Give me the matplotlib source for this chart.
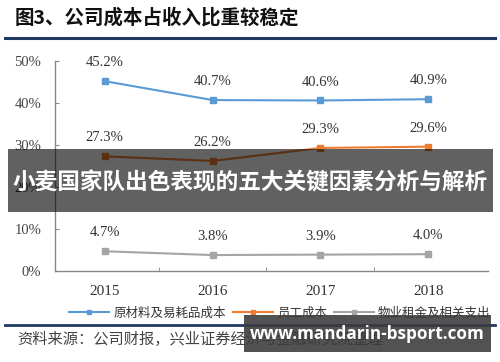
import matplotlib
matplotlib.use("Agg")
import matplotlib.pyplot as plt
from matplotlib.patches import Rectangle
from matplotlib.lines import Line2D

# ---------------- Data ----------------
years = ["2015", "2016", "2017", "2018"]
material = [45.2, 40.7, 40.6, 40.9]
staff = [27.3, 26.2, 29.3, 29.6]
rent = [4.7, 3.8, 3.9, 4.0]
series_names = ["原材料及易耗品成本", "员工成本", "物业租金及相关支出"]
y_ticks = [0, 10, 20, 30, 40, 50]

title_text = "图3、公司成本占收入比重较稳定"
source_text = "资料来源：公司财报，兴业证券经济与金融研究院整理"
banner_text = "小麦国家队出色表现的五大关键因素分析与解析"
watermark_text = "www.mandarin-bsport.com"

colors = ["#5B9BD5", "#ED7D31", "#A5A5A5"]
CJK = ["Noto Sans CJK SC", "DejaVu Sans"]
SERIF = "Liberation Serif"

W, H = 500, 362
fig = plt.figure(figsize=(W / 100, H / 100), dpi=100)


def fx(px):
    return px / W


def fy(py):
    return 1 - py / H


# ---------------- Header ----------------
fig.text(fx(15), fy(18), title_text, family=CJK, fontsize=14, fontweight="bold",
         color="#111111", va="center", ha="left")
fig.add_artist(Line2D([fx(5), fx(495)], [fy(38), fy(38)], color="#1F3864", lw=2.2))

# ---------------- Chart ----------------
ax = fig.add_axes([fx(55), fy(271), fx(493) - fx(55), fy(61) - fy(271)])
x = list(range(len(years)))
for vals, c in zip([material, staff, rent], colors):
    ax.plot(x, vals, color=c, lw=1.5, marker="s", markersize=4, zorder=3)
    for xi, v in zip(x, vals):
        ax.text(xi, v + 4.4, f"{v:.1f}%", ha="center", va="center",
                family=SERIF, fontsize=10.5, color="#333333")

ax.set_xlim(-0.46, 3.6)
ax.set_ylim(0, 50)
ax.set_yticks(y_ticks)
ax.set_yticklabels([f"{t}%" for t in y_ticks], family=SERIF, fontsize=10.5, color="#444444")
ax.set_xticks(x)
ax.set_xticklabels(years, family=SERIF, fontsize=11, color="#333333")
ax.set_xticks([0.5, 1.5, 2.5], minor=True)
ax.tick_params(axis="x", which="major", length=0, pad=10)
ax.tick_params(axis="x", which="minor", length=3, direction="in", color="#888888")
ax.tick_params(axis="y", length=3, direction="in", color="#888888", pad=10)
for s in ["top", "right"]:
    ax.spines[s].set_visible(False)
for s in ["left", "bottom"]:
    ax.spines[s].set_color("#888888")
    ax.spines[s].set_linewidth(1.0)
ax.spines["bottom"].set_bounds(-0.46, 3.55)

# ---------------- Legend ----------------
handles = [Line2D([], [], color=c, lw=1.5, marker="s", markersize=3.5) for c in colors]
fig.legend(handles, series_names, loc="center", bbox_to_anchor=(fx(280), fy(313)),
           ncol=3, frameon=False, prop={"family": CJK, "size": 9},
           handlelength=3.2, handletextpad=0.3, columnspacing=0.6, labelcolor="#333333")

# ---------------- Footer ----------------
fig.add_artist(Line2D([fx(5), fx(495)], [fy(325), fy(325)], color="#1F3864", lw=2.0))
fig.text(fx(17), fy(339), source_text, family=CJK, fontsize=11, color="#444444",
         va="center", ha="left")

# ---------------- Overlays ----------------
fig.add_artist(Rectangle((fx(8), fy(212)), fx(493) - fx(8), fy(149) - fy(212),
                         transform=fig.transFigure, color="#000000", alpha=0.62,
                         lw=0, zorder=10))
fig.text(fx(250), fy(183), banner_text, family=CJK, fontsize=16.3, fontweight="bold",
         color="white", ha="center", va="center", zorder=11)

fig.add_artist(Rectangle((fx(244), fy(352)), fx(491) - fx(244), fy(315) - fy(352),
                         transform=fig.transFigure, color="#3a3a3a", alpha=0.88,
                         lw=0, zorder=10))
fig.text(fx(367), fy(334), watermark_text, family=["Open Sans", "DejaVu Sans"],
         fontsize=12.3, fontweight="bold", color="white", ha="center", va="center", zorder=11)

fig.savefig("out.png", dpi=100)
